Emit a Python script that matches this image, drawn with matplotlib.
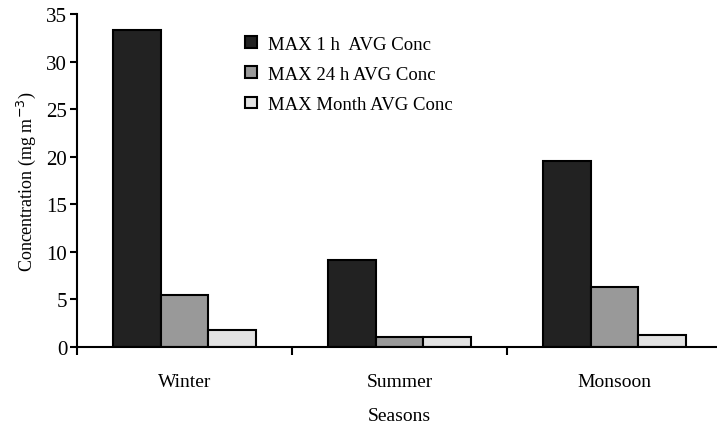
import matplotlib.pyplot as plt
import numpy as np

plt.rcParams['font.family'] = ['Liberation Serif', 'DejaVu Serif']

seasons = ['Winter', 'Summer', 'Monsoon']
series_names = ['MAX 1 h  AVG Conc', 'MAX 24 h AVG Conc', 'MAX Month AVG Conc']
max_1h = [33.3, 9.15, 19.55]
max_24h = [5.45, 1.0, 6.3]
max_month = [1.75, 1.0, 1.3]
colors = ['#222222', '#999999', '#e2e2e2']

fig = plt.figure(figsize=(7.17, 4.27), dpi=100)
ax = fig.add_axes([77 / 717, 79 / 427, 645 / 717, 333 / 427])

x = np.arange(len(seasons))
w = 0.223
for i, (vals, name, c) in enumerate(zip([max_1h, max_24h, max_month], series_names, colors)):
    ax.bar(x + (i - 1) * w, vals, width=w, color=c, edgecolor='black',
           linewidth=1.5, label=name)

ax.set_xlim(-0.5, 2.5)
ax.set_ylim(0, 35)
ax.set_yticks(range(0, 36, 5))
ax.tick_params(axis='y', direction='out', length=5, width=1.5, labelsize=15, pad=2)

# boundary ticks, labels in the middle
ax.set_xticks([-0.5, 0.5, 1.5])
ax.set_xticklabels([])
ax.tick_params(axis='x', which='major', direction='out', length=6, width=1.5)
ax.set_xticks(x, minor=True)
ax.set_xticklabels(seasons, minor=True)
ax.tick_params(axis='x', which='minor', length=0, labelsize=14, pad=19)

for s in ['top', 'right']:
    ax.spines[s].set_visible(False)
for s in ['left', 'bottom']:
    ax.spines[s].set_linewidth(1.5)

ax.set_xlabel('Seasons', fontsize=14, labelpad=12)
ax.set_ylabel('Concentration (mg m$^{-3}$)', fontsize=13, labelpad=6)

ax.legend(loc='upper left', bbox_to_anchor=(0.235, 0.985), frameon=False,
          fontsize=13.5, handlelength=0.6, handleheight=0.6, handletextpad=0.6,
          labelspacing=0.7)

fig.savefig('out.png', dpi=100)
